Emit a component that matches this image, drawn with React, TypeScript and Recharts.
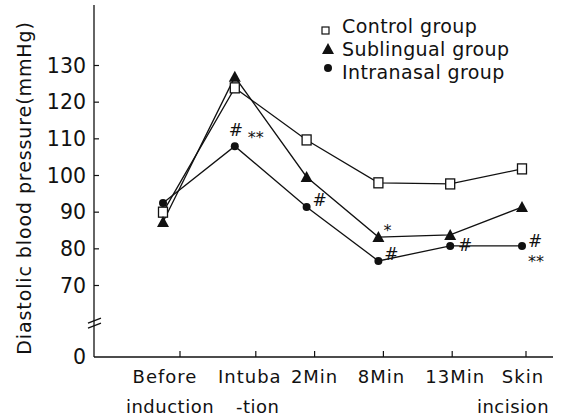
import { LineChart, Line, XAxis, YAxis, LabelList } from 'recharts';

const TIME_POINTS = ['Before', 'Intuba', '2Min', '8Min', '13Min', 'Skin'];
const TIME_SUBLINES = ['induction', '-tion', '', '', '', 'incision'];

const CONTROL = [90.0, 123.9, 109.7, 98.0, 97.7, 101.8];
const SUBLINGUAL = [87.3, 126.9, 99.6, 83.2, 83.8, 91.4];
const INTRANASAL = [92.5, 108.0, 91.4, 76.7, 80.8, 80.8];

// significance marks printed next to points
const SUBLINGUAL_STARS = ['', '', '', '*', '', ''];
const INTRANASAL_HASH = ['', '#', '#', '#', '#', '#'];
const INTRANASAL_STARS = ['', '**', '', '', '', '**'];

// broken y axis: the bottom of the scale is labelled 0
const Y_ZERO = 50.5;
const Y_BREAK = 60;
const Y_TICKS = [Y_ZERO, Y_BREAK, 70, 80, 90, 100, 110, 120, 130];

const FONT = '"DejaVu Sans", sans-serif';
const INK = '#111';

// small layout tweaks for the hand-set labels of the original
const TICK_DX = [17, 21, 8, 5, 2, 4];
const LINE1_DX = [2, 15, 8, 3, 5, 1];
const LINE2_DX = [7, 23, 0, 0, 0, -9];

const data = TIME_POINTS.map((time, i) => ({
  time,
  control: CONTROL[i],
  sublingual: SUBLINGUAL[i],
  intranasal: INTRANASAL[i],
}));

function YTick({ x, y, payload }: any) {
  if (payload.value === Y_BREAK) {
    return (
      <g stroke={INK} strokeWidth={1.3}>
        <line x1={x - 6} y1={y + 1} x2={x + 7} y2={y - 4} />
        <line x1={x - 6} y1={y + 6} x2={x + 7} y2={y + 1} />
      </g>
    );
  }
  const label = payload.value === Y_ZERO ? '0' : String(payload.value);
  return (
    <g>
      {payload.value !== Y_ZERO && (
        <line x1={x} y1={y} x2={x + 5} y2={y} stroke={INK} strokeWidth={1.2} />
      )}
      <text
        x={x - 8}
        y={y}
        textAnchor="end"
        dominantBaseline="central"
        fill={INK}
        style={{ fontFamily: FONT, fontSize: 20.5 }}
      >
        {label}
      </text>
    </g>
  );
}

function XTick({ x, y, index }: any) {
  return (
    <g>
      <line
        x1={x + TICK_DX[index]}
        y1={y}
        x2={x + TICK_DX[index]}
        y2={y - 6}
        stroke={INK}
        strokeWidth={1.2}
      />
      <text
        x={x + LINE1_DX[index]}
        y={y + 26}
        textAnchor="middle"
        fill={INK}
        style={{ fontFamily: FONT, fontSize: 18, letterSpacing: 1 }}
      >
        {TIME_POINTS[index]}
      </text>
      {TIME_SUBLINES[index] && (
        <text
          x={x + LINE2_DX[index]}
          y={y + 56}
          textAnchor="middle"
          fill={INK}
          style={{ fontFamily: FONT, fontSize: 18, letterSpacing: 0.5 }}
        >
          {TIME_SUBLINES[index]}
        </text>
      )}
    </g>
  );
}

function SquareDot({ cx, cy, index }: any) {
  return (
    <rect
      key={`sq-${index}`}
      x={cx - 4.5}
      y={cy - 5}
      width={9}
      height={10}
      fill="#fff"
      stroke={INK}
      strokeWidth={1.3}
    />
  );
}

function TriangleDot({ cx, cy, index }: any) {
  return (
    <path
      key={`tr-${index}`}
      d={`M${cx},${cy - 6} L${cx + 6},${cy + 5} L${cx - 6},${cy + 5} Z`}
      fill={INK}
    />
  );
}

function CircleDot({ cx, cy, index }: any) {
  return <circle key={`ci-${index}`} cx={cx} cy={cy} r={4} fill={INK} />;
}

const markStyle = { fontFamily: FONT, fontSize: 16, fill: INK } as const;
const hashStyle = { fontFamily: FONT, fontSize: 17, fill: INK } as const;

function SublingualMark({ x, y, index }: any) {
  const star = SUBLINGUAL_STARS[index];
  if (!star) return null;
  return (
    <text x={x + 9} y={y - 1} textAnchor="middle" style={markStyle}>
      {star}
    </text>
  );
}

function IntranasalMark({ x, y, index }: any) {
  const hash = INTRANASAL_HASH[index];
  const stars = INTRANASAL_STARS[index];
  if (!hash && !stars) return null;
  // intubation: # above the point, ** beside; skin incision: # beside, ** below
  const hashPos = index === 1 ? [1, -16] : index === 4 ? [15, -1] : index === 5 ? [13, -5] : [13, -7];
  const starPos = index === 1 ? [21, -3] : [14, 21];
  return (
    <g>
      {hash && (
        <text x={x + hashPos[0]} y={y + hashPos[1]} textAnchor="middle" dominantBaseline="central" style={hashStyle}>
          {hash}
        </text>
      )}
      {stars && (
        <text x={x + starPos[0]} y={y + starPos[1]} textAnchor="middle" style={markStyle}>
          {stars}
        </text>
      )}
    </g>
  );
}

const LEGEND_ROWS = [
  { name: 'Control group', icon: 'square' },
  { name: 'Sublingual group', icon: 'triangle' },
  { name: 'Intranasal group', icon: 'circle' },
];

function ChartLegend() {
  return (
    <div
      style={{
        position: 'absolute',
        left: 318,
        top: 15,
        fontFamily: FONT,
        fontSize: 19,
        color: INK,
        letterSpacing: 0.4,
        lineHeight: '23px',
      }}
    >
      {LEGEND_ROWS.map((row) => (
        <div key={row.name} style={{ display: 'flex', alignItems: 'center', height: 23 }}>
          <svg width={18} height={23} style={{ marginRight: 6 }}>
            {row.icon === 'square' && (
              <rect x={4} y={12} width={7} height={7} fill="#fff" stroke={INK} strokeWidth={1.2} />
            )}
            {row.icon === 'triangle' && <path d="M10,5 L16,16 L4,16 Z" fill={INK} />}
            {row.icon === 'circle' && <circle cx={10} cy={7} r={4} fill={INK} />}
          </svg>
          <span>{row.name}</span>
        </div>
      ))}
    </div>
  );
}

export default function App() {
  return (
    <div style={{ position: 'absolute', left: 0, top: 0, width: 562, height: 418, background: '#fff' }}>
      <LineChart width={562} height={418} data={data} margin={{ top: 5, right: 9, bottom: 0, left: 0 }}>
        <XAxis
          dataKey="time"
          height={61}
          padding={{ left: 69, right: 31 }}
          axisLine={{ stroke: INK, strokeWidth: 1.3 }}
          tickLine={false}
          tickSize={0}
          tickMargin={0}
          interval={0}
          tick={<XTick />}
        />
        <YAxis
          type="number"
          width={94}
          domain={[Y_ZERO, 146.5]}
          ticks={Y_TICKS}
          allowDataOverflow
          axisLine={{ stroke: INK, strokeWidth: 1.3 }}
          tickLine={false}
          tickSize={0}
          tickMargin={0}
          interval={0}
          tick={<YTick />}
          label={({ viewBox }: any) => {
            const cx = viewBox.x + 24;
            const cy = viewBox.y + viewBox.height / 2 + 7;
            return (
              <text
                x={cx}
                y={cy}
                transform={`rotate(-90, ${cx}, ${cy})`}
                textAnchor="middle"
                dominantBaseline="central"
                fill={INK}
                style={{ fontFamily: FONT, fontSize: 19, letterSpacing: 0.9 }}
              >
                Diastolic blood pressure(mmHg)
              </text>
            );
          }}
        />
        <Line
          dataKey="control"
          stroke={INK}
          strokeWidth={1.3}
          dot={<SquareDot />}
          isAnimationActive={false}
        />
        <Line
          dataKey="sublingual"
          stroke={INK}
          strokeWidth={1.3}
          dot={<TriangleDot />}
          isAnimationActive={false}
        >
          <LabelList dataKey="sublingual" content={<SublingualMark />} />
        </Line>
        <Line
          dataKey="intranasal"
          stroke={INK}
          strokeWidth={1.3}
          dot={<CircleDot />}
          isAnimationActive={false}
        >
          <LabelList dataKey="intranasal" content={<IntranasalMark />} />
        </Line>
      </LineChart>
      <ChartLegend />
    </div>
  );
}
